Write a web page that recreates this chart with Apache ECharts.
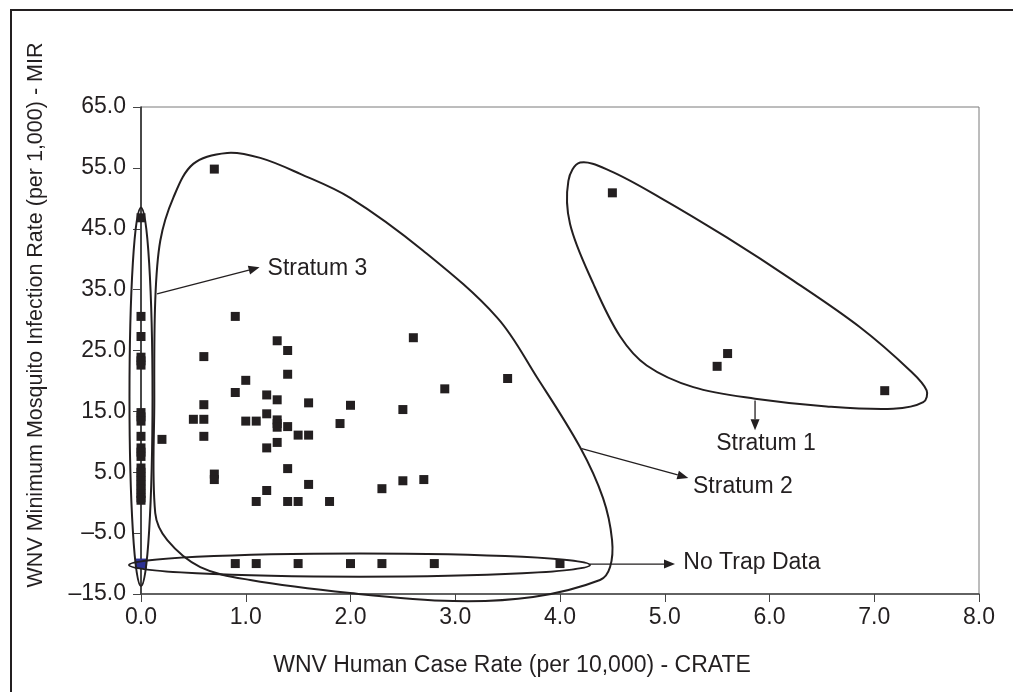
<!DOCTYPE html>
<html>
<head>
<meta charset="utf-8">
<script src="https://cdn.jsdelivr.net/npm/echarts@6/dist/echarts.min.js"></script>
<style>
  html, body { margin: 0; padding: 0; background: #fff; }
  #chart { width: 1013px; height: 692px; }
</style>
</head>
<body>
<div id="chart"></div>
<script>
// ---- Data ----
const xTicks = [0, 1, 2, 3, 4, 5, 6, 7, 8];
const yTicks = [-15, -5, 5, 15, 25, 35, 45, 55, 65];

// Stratum 3: counties with CRATE = 0
const stratum3MIR = [46.8, 30.6, 27.3, 23.9, 23.3, 22.6, 14.8, 14.1, 13.4, 10.9,
  9.0, 8.3, 7.6, 5.7, 5.0, 4.3, 3.6, 2.9, 2.2, 1.5, 0.8, 0.4];

// Stratum 2
const stratum2CRATE = [0.7, 0.9, 1.3, 1.4, 0.6, 1.4, 1.0, 0.9, 1.2, 1.3, 1.6, 0.6, 2.0,
  0.5, 0.6, 1.0, 1.1, 1.2, 1.3, 1.3, 1.3, 1.4, 1.9, 0.2, 0.6, 1.5, 1.6, 1.3, 1.2,
  1.4, 0.7, 0.7, 1.6, 1.2, 1.1, 1.4, 1.5, 1.8, 2.6, 3.5, 2.9, 2.5, 2.3, 2.5, 2.7];
const stratum2MIR = [54.8, 30.6, 26.6, 25.0, 24.0, 21.1, 20.1, 18.1, 17.7, 16.9, 16.4, 16.1, 16.0,
  13.7, 13.7, 13.4, 13.4, 14.6, 13.6, 13.0, 12.4, 12.5, 13.0, 10.4, 10.9, 11.1, 11.1, 9.9, 9.0,
  5.6, 4.7, 3.8, 3.0, 2.0, 0.2, 0.2, 0.2, 0.2, 27.1, 20.4, 18.7, 15.3, 2.3, 3.6, 3.8];

// Stratum 1
const stratum1CRATE = [4.5, 5.6, 5.5, 7.1];
const stratum1MIR = [50.9, 24.5, 22.4, 18.4];

// No trap data (plotted at MIR = -10)
const noTrapCRATE = [0.9, 1.1, 1.5, 2.0, 2.3, 2.8, 4.0];
const noTrapMIR = -10;
const noTrapZeroPoint = [0.0, -10];

// ---- Annotation outlines (data coordinates) ----
const stratum2Outline = [[0.136,-1.72],[0.127,16.8],[0.136,33.2],[0.184,43.03],[0.308,50.08],[0.499,55.66],
  [0.823,57.46],[1.138,56.64],[1.52,54.02],[1.997,50.08],[2.694,41.39],[3.4,30.41],[3.781,20.57],
  [4.192,9.1],[4.411,0.74],[4.497,-6.15],[4.478,-10.57],[4.382,-12.7],[3.743,-15.49],[2.98,-16.15],
  [1.997,-14.84],[1.043,-12.7],[0.566,-10.57],[0.251,-6.15]];
const stratum1Outline = [[4.192,55.87],[4.08,52.87],[4.096,45.77],[4.319,35.93],[4.573,27.34],[4.828,22.54],
  [5.273,18.98],[5.862,17.08],[6.546,15.82],[7.181,15.44],[7.468,16.52],[7.5,18.44],[7.341,21.72],
  [6.864,28.82],[6.227,36.48],[5.592,43.57],[4.955,50.13],[4.478,54.51]];
const stratum3Ellipse = { c: [0.0, 17.4], rx: 0.11, ry: 31.1 };
const noTrapEllipse = { c: [2.086, -10.25], rx: 2.2, ry: 1.92 };
const arrows = [
  { from: [0.153, 34.3], to: [1.132, 38.66] },
  { from: [4.208, 8.89], to: [5.225, 4.07] },
  { from: [5.862, 16.8], to: [5.862, 11.89] },
  { from: [4.287, -10.08], to: [5.098, -10.08] }
];
const labels = [
  { text: 'Stratum 3', at: [1.208, 38.44], align: 'left' },
  { text: 'Stratum 2', at: [5.27, 2.7], align: 'left' },
  { text: 'Stratum 1', at: [5.967, 9.75], align: 'center' },
  { text: 'No Trap Data', at: [5.177, -9.92], align: 'left' }
];

const FONT = '"Liberation Sans", Arial, Helvetica, sans-serif';
const INK = '#231f20';
const fmt = v => v.toFixed(1).replace('-', '\u2013');

const chart = echarts.init(document.getElementById('chart'), null, { renderer: 'canvas' });

const sq = { symbol: 'rect', symbolSize: 9, itemStyle: { color: INK, opacity: 1 }, silent: true };

chart.setOption({
  animation: false,
  backgroundColor: '#fff',
  grid: { left: 141, top: 107, right: 34, bottom: 98, show: true, borderColor: '#7a7a7a', borderWidth: 1 },
  xAxis: {
    type: 'value', min: xTicks[0], max: xTicks[xTicks.length - 1], interval: 1,
    axisLine: { show: true, onZero: false, lineStyle: { color: '#444', width: 1.5 } },
    axisTick: { show: true, length: 8, lineStyle: { color: '#444' } },
    axisLabel: { formatter: fmt, color: INK, fontFamily: FONT, fontSize: 23, margin: 12 },
    splitLine: { show: false }
  },
  yAxis: {
    type: 'value', min: yTicks[0], max: yTicks[yTicks.length - 1], interval: 10,
    axisLine: { show: true, onZero: false, lineStyle: { color: '#222', width: 1.5 } },
    axisTick: { show: true, length: 8, lineStyle: { color: '#444' } },
    axisLabel: { formatter: fmt, color: INK, fontFamily: FONT, fontSize: 23, margin: 15 },
    splitLine: { show: false }
  },
  series: [
    Object.assign({ type: 'scatter', name: 'Stratum 3', data: stratum3MIR.map(y => [0, y]) }, sq),
    Object.assign({ type: 'scatter', name: 'Stratum 2', data: stratum2CRATE.map((x, i) => [x, stratum2MIR[i]]) }, sq),
    Object.assign({ type: 'scatter', name: 'Stratum 1', data: stratum1CRATE.map((x, i) => [x, stratum1MIR[i]]) }, sq),
    Object.assign({ type: 'scatter', name: 'No Trap Data', data: noTrapCRATE.map(x => [x, noTrapMIR]) }, sq),
    { type: 'scatter', name: 'No Trap 0', data: [noTrapZeroPoint], symbol: 'rect', symbolSize: [12, 10],
      itemStyle: { color: '#2e3192', opacity: 1 }, silent: true, z: 3 }
  ]
});

// ---- Annotations through the chart's own coordinate conversion ----
const px = p => chart.convertToPixel({ gridIndex: 0 }, p);
const g = [];
g.push({ type: 'rect', shape: { x: 11, y: 10, width: 1200, height: 900 },
  style: { fill: null, stroke: INK, lineWidth: 2 }, silent: true });
g.push({ type: 'text', x: 36, y: 315, rotation: Math.PI / 2,
  style: { text: 'WNV Minimum Mosquito Infection Rate (per 1,000) - MIR', fill: INK, font: '21.5px ' + FONT,
    align: 'center', verticalAlign: 'middle' }, silent: true });
g.push({ type: 'text', x: 512, y: 666,
  style: { text: 'WNV Human Case Rate (per 10,000) - CRATE', fill: INK, font: '23px ' + FONT,
    align: 'center', verticalAlign: 'middle' }, silent: true });

const lineStyle = { fill: null, stroke: INK, lineWidth: 2 };
[stratum2Outline, stratum1Outline].forEach(o => {
  g.push({ type: 'polygon', shape: { points: o.map(px), smooth: 0.35 }, style: lineStyle, silent: true, z: 10 });
});
[stratum3Ellipse, noTrapEllipse].forEach(e => {
  const c = px(e.c);
  const r = px([e.c[0] + e.rx, e.c[1] + e.ry]);
  g.push({ type: 'ellipse', shape: { cx: c[0], cy: c[1], rx: Math.abs(r[0] - c[0]), ry: Math.abs(r[1] - c[1]) },
    style: lineStyle, silent: true, z: 10 });
});
arrows.forEach(a => {
  const f = px(a.from), t = px(a.to);
  const dx = t[0] - f[0], dy = t[1] - f[1], L = Math.hypot(dx, dy);
  const ux = dx / L, uy = dy / L, hl = 11, hw = 4.5;
  const b = [t[0] - ux * hl, t[1] - uy * hl];
  g.push({ type: 'line', shape: { x1: f[0], y1: f[1], x2: b[0], y2: b[1] },
    style: { stroke: INK, lineWidth: 1.3 }, silent: true, z: 10 });
  g.push({ type: 'polygon', shape: { points: [t, [b[0] - uy * hw, b[1] + ux * hw], [b[0] + uy * hw, b[1] - ux * hw]] },
    style: { fill: INK }, silent: true, z: 10 });
});
labels.forEach(l => {
  const p = px(l.at);
  g.push({ type: 'text', x: p[0], y: p[1],
    style: { text: l.text, fill: INK, font: '23px ' + FONT, align: l.align, verticalAlign: 'middle' },
    silent: true, z: 10 });
});
chart.setOption({ graphic: g });
</script>
</body>
</html>
